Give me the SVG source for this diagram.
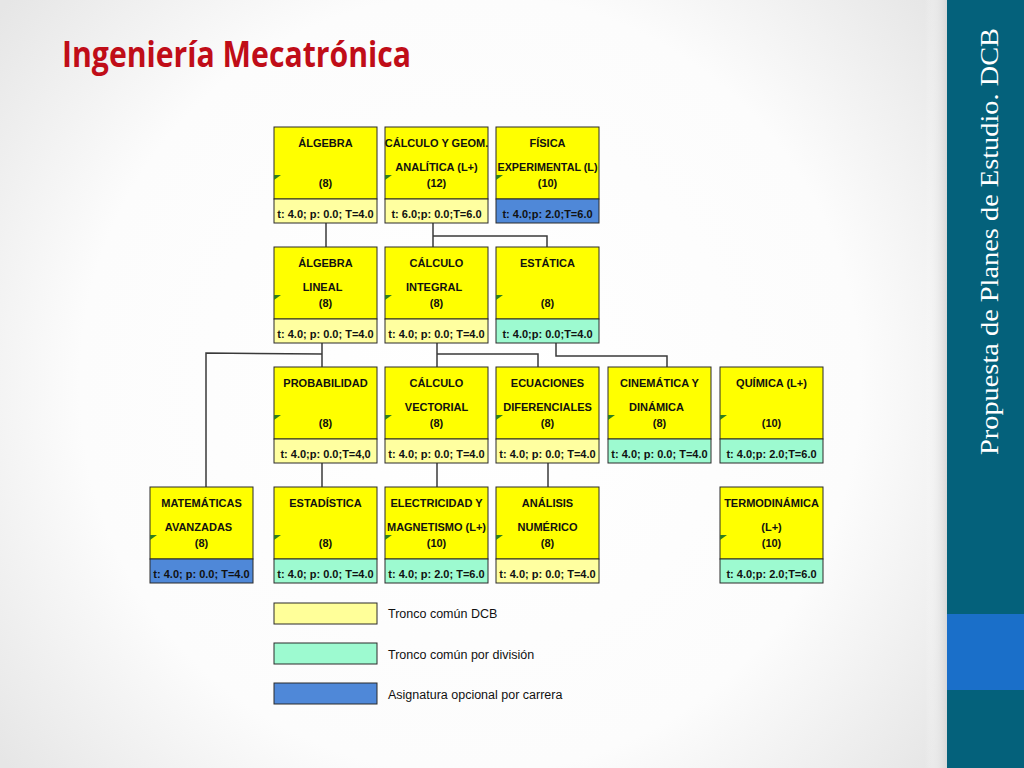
<svg xmlns="http://www.w3.org/2000/svg" width="1024" height="768" viewBox="0 0 1024 768">
<defs>
<radialGradient id="bg" cx="470" cy="384" r="600" gradientUnits="userSpaceOnUse">
<stop offset="0" stop-color="#ffffff"/>
<stop offset="0.65" stop-color="#fcfcfc"/>
<stop offset="1" stop-color="#e6e6e6"/>
</radialGradient>
<linearGradient id="sh" x1="0" y1="0" x2="1" y2="0">
<stop offset="0" stop-color="#ffffff" stop-opacity="0"/>
<stop offset="1" stop-color="#d8d8d8"/>
</linearGradient>
<style>
.top{fill:#ffff00;stroke:#2a2a2a;stroke-width:1}
.fy{fill:#ffffa0;stroke:#2a2a2a;stroke-width:1}
.fg{fill:#9dfad0;stroke:#2a2a2a;stroke-width:1}
.fb{fill:#4f88d8;stroke:#2a2a2a;stroke-width:1}
.t{font-family:"Liberation Sans",Arial,sans-serif;font-weight:bold;font-size:11px;fill:#111;text-anchor:middle}
.lg{font-family:"Liberation Sans",Arial,sans-serif;font-size:12.5px;fill:#111}
.mk{fill:#2e7d1e}
.cn{fill:none;stroke:#3a3a3a;stroke-width:1.5}
</style>
</defs>
<rect x="0" y="0" width="1024" height="768" fill="url(#bg)"/>
<rect x="925" y="0" width="22" height="768" fill="url(#sh)"/>
<g id="sidebar">
<rect x="947" y="0" width="77" height="768" fill="#04617b"/>
<rect x="947" y="614" width="77" height="76" fill="#1a6fc9"/>
<text transform="translate(998,455) rotate(-90)" x="0" y="0" font-family="Liberation Serif,'DejaVu Serif',serif" font-size="24.5" fill="#ffffff" textLength="427" lengthAdjust="spacingAndGlyphs">Propuesta de Planes de Estudio. DCB</text>
</g>
<text id="title" x="62" y="67" font-family="'Open Sans','Liberation Sans',sans-serif" font-weight="bold" font-size="36" fill="#c00d18" textLength="349" lengthAdjust="spacingAndGlyphs">Ingeniería Mecatrónica</text>

<g id="connectors">
<path class="cn" d="M326 223 V247"/>
<path class="cn" d="M433 223 V247"/>
<path class="cn" d="M433 236 H547 V247"/>
<path class="cn" d="M322 343 V367"/>
<path class="cn" d="M322 354 L206 353 V487"/>
<path class="cn" d="M437 343 V367"/>
<path class="cn" d="M437 354 H538 V367"/>
<path class="cn" d="M556 343 V356 H667 V367"/>
<path class="cn" d="M322 463 V487"/>
<path class="cn" d="M437 463 V487"/>
<path class="cn" d="M548 463 V487"/>
</g>

<!-- Row 1 -->
<g id="algebra">
<rect class="top" x="274" y="127" width="103" height="72"/><rect class="fy" x="274" y="199" width="103" height="24"/>
<polygon class="mk" points="274,175 281,175 274,180"/>
<text class="t" x="325.5" y="147">ÁLGEBRA</text>
<text class="t" x="325.5" y="187">(8)</text>
<text class="t" x="325.5" y="218">t: 4.0; p: 0.0; T=4.0</text>
</g>
<g id="calculo-geom">
<rect class="top" x="385" y="127" width="103" height="72"/><rect class="fy" x="385" y="199" width="103" height="24"/>
<polygon class="mk" points="385,175 392,175 385,180"/>
<text class="t" x="436.5" y="147">CÁLCULO Y GEOM.</text>
<text class="t" x="436.5" y="171">ANALÍTICA (L+)</text>
<text class="t" x="436.5" y="187">(12)</text>
<text class="t" x="436.5" y="218">t: 6.0;p: 0.0;T=6.0</text>
</g>
<g id="fisica">
<rect class="top" x="496" y="127" width="103" height="72"/><rect class="fb" x="496" y="199" width="103" height="24"/>
<polygon class="mk" points="496,175 503,175 496,180"/>
<text class="t" x="547.5" y="147">FÍSICA</text>
<text class="t" x="547.5" y="171" textLength="100" lengthAdjust="spacingAndGlyphs">EXPERIMENTAL (L)</text>
<text class="t" x="547.5" y="187">(10)</text>
<text class="t" x="547.5" y="218">t: 4.0;p: 2.0;T=6.0</text>
</g>

<!-- Row 2 -->
<g id="algebra-lineal">
<rect class="top" x="274" y="247" width="103" height="72"/><rect class="fy" x="274" y="319" width="103" height="24"/>
<polygon class="mk" points="274,295 281,295 274,300"/>
<text class="t" x="325.5" y="267">ÁLGEBRA</text>
<text class="t" x="322.5" y="291">LINEAL</text>
<text class="t" x="325.5" y="307">(8)</text>
<text class="t" x="325.5" y="338">t: 4.0; p: 0.0; T=4.0</text>
</g>
<g id="calculo-integral">
<rect class="top" x="385" y="247" width="103" height="72"/><rect class="fy" x="385" y="319" width="103" height="24"/>
<polygon class="mk" points="385,295 392,295 385,300"/>
<text class="t" x="436.5" y="267">CÁLCULO</text>
<text class="t" x="434" y="291">INTEGRAL</text>
<text class="t" x="436.5" y="307">(8)</text>
<text class="t" x="436.5" y="338">t: 4.0; p: 0.0; T=4.0</text>
</g>
<g id="estatica">
<rect class="top" x="496" y="247" width="103" height="72"/><rect class="fg" x="496" y="319" width="103" height="24"/>
<polygon class="mk" points="496,295 503,295 496,300"/>
<text class="t" x="547.5" y="267">ESTÁTICA</text>
<text class="t" x="547.5" y="307">(8)</text>
<text class="t" x="547.5" y="338">t: 4.0;p: 0.0;T=4.0</text>
</g>

<!-- Row 3 -->
<g id="probabilidad">
<rect class="top" x="274" y="367" width="103" height="72"/><rect class="fy" x="274" y="439" width="103" height="24"/>
<polygon class="mk" points="274,415 281,415 274,420"/>
<text class="t" x="325.5" y="387">PROBABILIDAD</text>
<text class="t" x="325.5" y="427">(8)</text>
<text class="t" x="325.5" y="458">t: 4.0;p: 0.0;T=4,0</text>
</g>
<g id="calculo-vectorial">
<rect class="top" x="385" y="367" width="103" height="72"/><rect class="fy" x="385" y="439" width="103" height="24"/>
<polygon class="mk" points="385,415 392,415 385,420"/>
<text class="t" x="436.5" y="387">CÁLCULO</text>
<text class="t" x="436.5" y="411">VECTORIAL</text>
<text class="t" x="436.5" y="427">(8)</text>
<text class="t" x="436.5" y="458">t: 4.0; p: 0.0; T=4.0</text>
</g>
<g id="ecuaciones">
<rect class="top" x="496" y="367" width="103" height="72"/><rect class="fy" x="496" y="439" width="103" height="24"/>
<polygon class="mk" points="496,415 503,415 496,420"/>
<text class="t" x="547.5" y="387">ECUACIONES</text>
<text class="t" x="547.5" y="411">DIFERENCIALES</text>
<text class="t" x="547.5" y="427">(8)</text>
<text class="t" x="547.5" y="458">t: 4.0; p: 0.0; T=4.0</text>
</g>
<g id="cinematica">
<rect class="top" x="608" y="367" width="103" height="72"/><rect class="fg" x="608" y="439" width="103" height="24"/>
<polygon class="mk" points="608,415 615,415 608,420"/>
<text class="t" x="659.5" y="387">CINEMÁTICA Y</text>
<text class="t" x="656.5" y="411">DINÁMICA</text>
<text class="t" x="659.5" y="427">(8)</text>
<text class="t" x="659.5" y="458">t: 4.0; p: 0.0; T=4.0</text>
</g>
<g id="quimica">
<rect class="top" x="720" y="367" width="103" height="72"/><rect class="fg" x="720" y="439" width="103" height="24"/>
<polygon class="mk" points="720,415 727,415 720,420"/>
<text class="t" x="771.5" y="387">QUÍMICA (L+)</text>
<text class="t" x="771.5" y="427">(10)</text>
<text class="t" x="771.5" y="458">t: 4.0;p: 2.0;T=6.0</text>
</g>

<!-- Row 4 -->
<g id="matematicas-avanzadas">
<rect class="top" x="150" y="487" width="103" height="72"/><rect class="fb" x="150" y="559" width="103" height="24"/>
<polygon class="mk" points="150,535 157,535 150,540"/>
<text class="t" x="201.5" y="507">MATEMÁTICAS</text>
<text class="t" x="198.5" y="531">AVANZADAS</text>
<text class="t" x="201.5" y="547">(8)</text>
<text class="t" x="201.5" y="578">t: 4.0; p: 0.0; T=4.0</text>
</g>
<g id="estadistica">
<rect class="top" x="274" y="487" width="103" height="72"/><rect class="fg" x="274" y="559" width="103" height="24"/>
<polygon class="mk" points="274,535 281,535 274,540"/>
<text class="t" x="325.5" y="507">ESTADÍSTICA</text>
<text class="t" x="325.5" y="547">(8)</text>
<text class="t" x="325.5" y="578">t: 4.0; p: 0.0; T=4.0</text>
</g>
<g id="electricidad">
<rect class="top" x="385" y="487" width="103" height="72"/><rect class="fg" x="385" y="559" width="103" height="24"/>
<polygon class="mk" points="385,535 392,535 385,540"/>
<text class="t" x="436.5" y="507">ELECTRICIDAD Y</text>
<text class="t" x="436.5" y="531" textLength="99" lengthAdjust="spacingAndGlyphs">MAGNETISMO (L+)</text>
<text class="t" x="436.5" y="547">(10)</text>
<text class="t" x="436.5" y="578">t: 4.0; p: 2.0; T=6.0</text>
</g>
<g id="analisis-numerico">
<rect class="top" x="496" y="487" width="103" height="72"/><rect class="fy" x="496" y="559" width="103" height="24"/>
<polygon class="mk" points="496,535 503,535 496,540"/>
<text class="t" x="547.5" y="507">ANÁLISIS</text>
<text class="t" x="547.5" y="531">NUMÉRICO</text>
<text class="t" x="547.5" y="547">(8)</text>
<text class="t" x="547.5" y="578">t: 4.0; p: 0.0; T=4.0</text>
</g>
<g id="termodinamica">
<rect class="top" x="720" y="487" width="103" height="72"/><rect class="fg" x="720" y="559" width="103" height="24"/>
<polygon class="mk" points="720,535 727,535 720,540"/>
<text class="t" x="771.5" y="507">TERMODINÁMICA</text>
<text class="t" x="771.5" y="531">(L+)</text>
<text class="t" x="771.5" y="547">(10)</text>
<text class="t" x="771.5" y="578">t: 4.0;p: 2.0;T=6.0</text>
</g>

<!-- Legend -->
<g id="legend">
<rect x="274" y="603" width="103" height="21" fill="#ffff99" stroke="#2a2a2a" stroke-width="1"/>
<text class="lg" x="388" y="618">Tronco común DCB</text>
<rect class="fg" x="274" y="643" width="103" height="21"/>
<text class="lg" x="388" y="659">Tronco común por división</text>
<rect class="fb" x="274" y="683" width="103" height="21"/>
<text class="lg" x="388" y="699">Asignatura opcional por carrera</text>
</g>
</svg>
